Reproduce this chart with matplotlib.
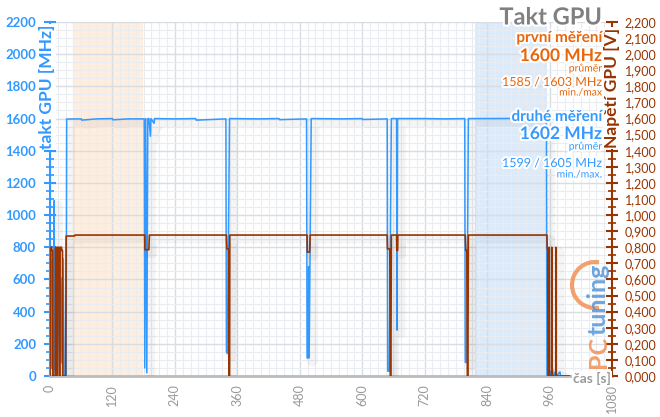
import numpy as np
import matplotlib
matplotlib.use("Agg")
import matplotlib.pyplot as plt
import matplotlib.patheffects as pe
from matplotlib.patches import Arc
from matplotlib.ticker import MultipleLocator, FuncFormatter

# takt GPU [MHz] -- breakpoints
clock_t = [0, 1, 2, 4, 6, 7, 8, 9, 12, 14, 17, 19, 21, 23, 25, 27, 29, 31,
           32, 60, 61, 90, 120, 121, 150, 181,
           182, 184, 186, 188, 190, 193, 194, 200, 201, 240, 280, 281, 338,
           339, 341, 345, 400, 440, 441, 493,
           494, 496, 497, 498, 502, 560, 600, 601, 648,
           649, 652, 656, 666, 667, 668, 720, 760, 797,
           798, 801, 804, 850, 900, 954,
           955, 957, 960, 961, 962, 966, 967, 968, 972, 973, 980, 981, 998]
clock_v = [0, 780, 60, 720, 10, 0, 1090, 40, 700, 20, 600, 90, 610, 80, 730, 10, 0, 0,
           1597, 1598, 1590, 1598, 1600, 1592, 1598, 1598,
           50, 1600, 20, 1600, 1600, 1490, 1600, 1570, 1600, 1598, 1600, 1590, 1598,
           150, 140, 1600, 1598, 1600, 1593, 1598,
           112, 112, 680, 112, 1600, 1598, 1600, 1594, 1598,
           30, 30, 1600, 1600, 285, 1600, 1600, 1598, 1600,
           85, 85, 1600, 1600, 1601, 1600,
           5, 0, 0, 30, 0, 40, 0, 0, 35, 0, 25, 0, 0]

# napětí GPU [V]
volt_t = [0, 1, 3, 3.5, 5, 5.5, 10, 10.5, 12, 12.5, 14, 14.5, 17, 17.5, 18, 19,
          19.5, 22, 22.5, 24, 24.5, 30, 31, 47, 48,
          182, 182.5, 190, 191, 339, 340, 343, 344, 345, 345.5,
          494, 494.5, 499, 500,
          648, 648.5, 653, 654, 655, 656, 666, 666.5, 668, 668.5,
          798, 799, 801, 802, 803, 804,
          955, 955.5, 956.5, 957, 959, 959.2, 959.6, 964, 964.2, 964.6, 972, 972.2, 972.6, 998]
volt_v = [0, 0.8, 0.8, 0.78, 0.78, 0, 0, 0.8, 0.8, 0, 0, 0.8, 0.8, 0.78, 0, 0,
          0.8, 0.8, 0.78, 0.78, 0, 0, 0.87, 0.87, 0.876,
          0.876, 0.785, 0.785, 0.876, 0.876, 0.79, 0.79, 0, 0, 0.876,
          0.876, 0.77, 0.77, 0.876,
          0.876, 0.79, 0.79, 0, 0, 0.876, 0.876, 0.78, 0.78, 0.876,
          0.876, 0.78, 0.78, 0, 0, 0.876,
          0.876, 0.79, 0.79, 0, 0, 0.8, 0, 0, 0.8, 0, 0, 0.8, 0, 0]

span_first = (44, 179)
span_second = (816, 956)

blue = "#3399ff"
brown = "#993300"
orange = "#e8650a"
gray = "#808080"

W, H = 660, 417
fig = plt.figure(figsize=(6.6, 4.17), dpi=100)
ax = fig.add_axes([50 / W, 1 - 376 / H, (612 - 50) / W, (376 - 22) / H])
ax2 = ax.twinx()


def fx(x):
    return x / W


def fy(y):
    return 1 - y / H


ax.axvspan(*span_first, color="#fdeee0", zorder=0.2, lw=0)
ax.axvspan(*span_second, color="#dceafa", zorder=0.2, lw=0)

ax.set_xlim(0, 1080)
ax.set_ylim(0, 2200)
ax2.set_ylim(0, 2.2)

ax.xaxis.set_major_locator(MultipleLocator(120))
ax.xaxis.set_minor_locator(MultipleLocator(15))
ax.yaxis.set_major_locator(MultipleLocator(200))
ax.yaxis.set_minor_locator(MultipleLocator(50))
ax2.yaxis.set_major_locator(MultipleLocator(0.1))
ax2.yaxis.set_minor_locator(MultipleLocator(0.05))

ax.set_axisbelow(True)
ax.grid(which="major", color="#d8dce3", lw=1.0)
ax.grid(which="minor", color="#e9ecf0", lw=0.8)

shadow = [pe.SimpleLineShadow(offset=(3, -3), shadow_color="k", alpha=0.04, linewidth=6), pe.Normal()]
ax.plot(clock_t, clock_v, color=blue, lw=1.1, path_effects=shadow, zorder=3)
ax2.plot(volt_t, volt_v, color=brown, lw=1.2, path_effects=shadow, zorder=3)

ax.spines["top"].set_visible(False)
ax2.spines["top"].set_visible(False)
ax.spines["right"].set_visible(False)
ax2.spines["left"].set_visible(False)
ax2.spines["bottom"].set_visible(False)
ax.spines["left"].set_color(blue)
ax.spines["left"].set_linewidth(1.5)
ax.spines["bottom"].set_color("#bbbbbb")
ax.spines["bottom"].set_linewidth(2)
ax2.spines["right"].set_color(brown)
ax2.spines["right"].set_linewidth(1.5)

lab = dict(family="Lato", weight="bold")
ax.tick_params(axis="y", which="major", direction="inout", length=8, width=1.5, color=blue,
               labelcolor=blue, labelsize=9.5, pad=6)
ax.tick_params(axis="y", which="minor", direction="inout", length=6, width=1.2, color=blue)
ax.tick_params(axis="x", which="both", length=0, labelcolor="#999999", labelsize=9, pad=6,
               labelrotation=90)
ax2.tick_params(axis="y", which="major", direction="inout", length=8, width=1.5, color=brown,
                labelcolor=brown, labelsize=9, pad=5)
ax2.tick_params(axis="y", which="minor", direction="inout", length=6, width=1.2, color=brown)
for t in ax.get_yticklabels():
    t.set_family("Lato")
    t.set_weight("bold")
for t in ax.get_xticklabels():
    t.set_family("Lato")
ax2.yaxis.set_major_formatter(FuncFormatter(lambda v, p: f"{v:.3f}".replace(".", ",")))
for t in ax2.get_yticklabels():
    t.set_family("Lato")

box = dict(facecolor="white", edgecolor="none", pad=0.5)
fig.text(fx(47), fy(87), "takt GPU [MHz]", rotation=90, color=blue, fontsize=12.5,
         ha="center", va="center", bbox=box, **lab)
fig.text(fx(612), fy(88), "Napětí GPU [V]", rotation=90, color=brown, fontsize=12.5,
         ha="center", va="center", bbox=box, **lab)
fig.text(fx(592), fy(378), "čas [s]", color="#999999", fontsize=10,
         ha="center", va="center", bbox=box, **lab)

glow = [pe.withStroke(linewidth=3, foreground="white")]


def put(y, s, color, size, weight="bold"):
    fig.text(fx(602), fy(y), s, color=color, fontsize=size, ha="right", va="center",
             family="Lato", weight=weight, path_effects=glow, zorder=10)


put(17, "Takt GPU", gray, 17)
put(38, "první měření", orange, 11)
put(56, "1600 MHz", orange, 12.5)
put(69, "průměr", orange, 7.5, "normal")
put(82, "1585 / 1603 MHz", orange, 9, "normal")
put(93, "min./max", orange, 7.5, "normal")
put(117, "druhé měření", blue, 11)
put(134, "1602 MHz", blue, 12.5)
put(147, "průměr", blue, 7.5, "normal")
put(163, "1599 / 1605 MHz", blue, 9, "normal")
put(175, "min./max.", blue, 7.5, "normal")

# watermark
fig.text(fx(598), fy(368), "PC", rotation=90, color="#f08a4b", fontsize=18, alpha=0.8,
         ha="center", va="bottom", family="Lato", weight="bold")
fig.text(fx(598), fy(335), "tuning", rotation=90, color="#4a90d9", fontsize=18, alpha=0.8,
         ha="center", va="bottom", family="Lato", weight="bold")
arc = Arc((5.95, (417 - 285) / 100), 0.46, 0.46, theta1=80, theta2=280,
          transform=fig.dpi_scale_trans, color="#f08a4b", lw=3, alpha=0.8)
fig.add_artist(arc)

fig.savefig("out.png", dpi=100)
